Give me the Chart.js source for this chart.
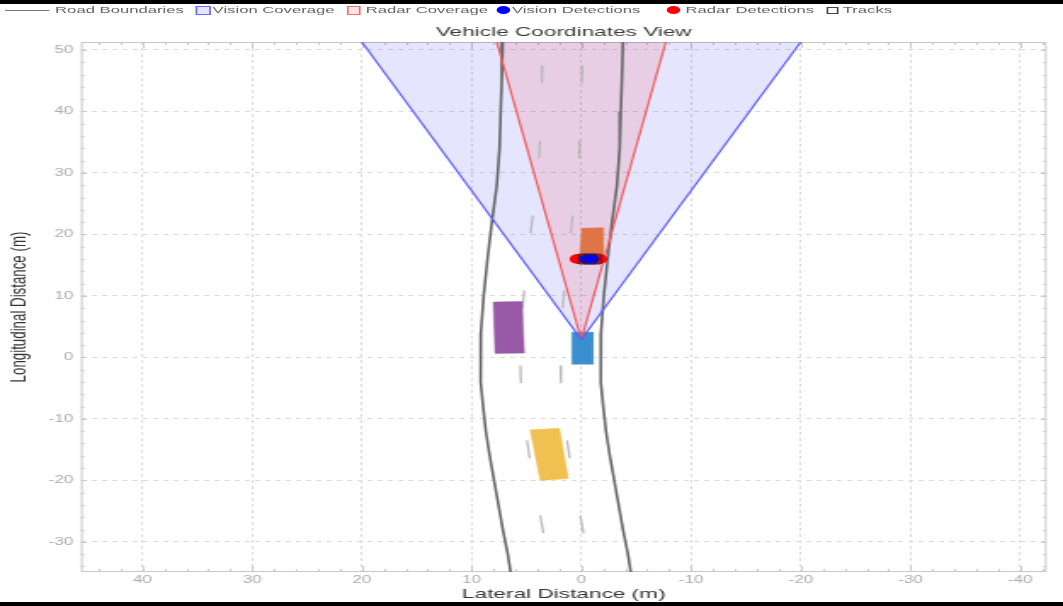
<!DOCTYPE html>
<html>
<head>
<meta charset="utf-8">
<script src="https://cdn.jsdelivr.net/npm/chart.js@4/dist/chart.umd.min.js"></script>
<style>
  html, body { margin: 0; padding: 0; background: #000; width: 1063px; height: 606px; overflow: hidden; }
  /* the source picture was drawn narrow and stretched sideways, so do the same */
  #stage { position: absolute; left: 0; top: 4px; width: 625px; height: 598px; background: #fff;
           transform: scaleX(1.7008); transform-origin: 0 0; font-family: "Liberation Sans", Arial, sans-serif; }
  #chart { position: absolute; left: 0; top: 0; }
  #legend { position: absolute; left: 0; top: 0; height: 12px; width: 625px; z-index: 2; }
  #legend .tx { position: absolute; top: 0; line-height: 12px; font-size: 9.8px; color: #666; white-space: nowrap; }
  #legend .mk { position: absolute; box-sizing: border-box; }
  #legend .line { top: 5.5px; width: 26px; height: 0; border-top: 1.3px solid #7a7a7a; }
  #legend .sq { top: 1.5px; width: 8.5px; height: 9px; border: 1.2px solid; }
  #legend .dot { top: 2px; width: 8px; height: 8px; border-radius: 50%; }
</style>
</head>
<body>
<div id="stage">
  <div id="legend">
    <span class="mk line" style="left:3px"></span><span class="tx" style="left:32.4px">Road Boundaries</span>
    <span class="mk sq" style="left:115px;border-color:#6a6aff;background:#e6e6ff"></span><span class="tx" style="left:125px">Vision Coverage</span>
    <span class="mk sq" style="left:203.5px;border-color:#f07070;background:#fde6e6"></span><span class="tx" style="left:215px">Radar Coverage</span>
    <span class="mk dot" style="left:292px;background:#0000ff"></span><span class="tx" style="left:301px">Vision Detections</span>
    <span class="mk dot" style="left:392px;background:#ff0000"></span><span class="tx" style="left:403px">Radar Detections</span>
    <span class="mk sq" style="left:486px;top:2.5px;width:6.5px;height:7px;border-color:#444;background:#fff"></span><span class="tx" style="left:495.5px">Tracks</span>
  </div>
  <canvas id="chart" width="625" height="598"></canvas>
</div>
<script>
// 標題與軸標籤
const chartTitle = 'Vehicle Coordinates View';
const xTitle = 'Lateral Distance (m)';
const yTitle = 'Longitudinal Distance (m)';

// 軸範圍
const xRange = [-42.4, 45.6]; // 左邊是正值（反向）
const yRange = [-34.9, 51.3];

// 道路邊界：縱向距離 vs 橫向距離
const roadLong = [52, 45, 40, 34, 28, 22, 16, 10, 4, 0, -4, -8, -12, -16, -20, -24, -28, -32, -36];
const roadLeftLat = [7.15, 7.25, 7.35, 7.45, 7.7, 8.15, 8.55, 8.9, 9.15, 9.2, 9.15, 8.95, 8.7, 8.35, 7.95, 7.55, 7.15, 6.7, 6.35];
const roadRightLat = [-3.8, -3.7, -3.6, -3.5, -3.25, -2.8, -2.4, -2.05, -1.8, -1.75, -1.8, -2.0, -2.25, -2.6, -3.0, -3.4, -3.8, -4.25, -4.6];

// 車道虛線（每段兩個端點）
const dashLong = [[47.5, 44.6], [35.3, 32.4], [23.1, 20.2], [10.9, 8.0], [-1.3, -4.2], [-13.5, -16.4], [-25.7, -28.6]];
const laneOneLat = [[3.55, 3.6], [3.77, 3.85], [4.42, 4.62], [5.2, 5.35], [5.55, 5.5], [4.95, 4.7], [3.75, 3.45]];
const laneTwoLat = [[-0.1, -0.05], [0.12, 0.2], [0.77, 0.97], [1.55, 1.7], [1.9, 1.85], [1.3, 1.05], [0.1, -0.2]];

// 感測範圍（三角形）
const visionCovLat = [0, 21.94, -21.94, 0];
const visionCovLong = [2.9, 56, 56, 2.9];
const radarCovLat = [0, 8.45, -8.45, 0];
const radarCovLong = [2.9, 56, 56, 2.9];

// 車輛外框
const egoLat = [0.85, -1.05, -1.05, 0.85, 0.85];
const egoLong = [4.1, 4.1, -1.1, -1.1, 4.1];
const leadCarLat = [-0.05, -1.9, -2.0, 0.15, -0.05];
const leadCarLong = [21.0, 21.1, 16.3, 16.2, 21.0];
const leftCarLat = [8.02, 5.4, 5.2, 7.85, 8.02];
const leftCarLong = [9.0, 9.1, 0.7, 0.65, 9.0];
const rearCarLat = [4.65, 2.0, 1.19, 3.74, 4.65];
const rearCarLong = [-11.8, -11.5, -19.7, -20.0, -11.8];

// 偵測與追蹤
const radarDetLat = [0.3, -0.2, -0.65, -1.1, -1.6];
const radarDetLong = [16.0, 16.0, 16.0, 16.0, 16.0];
const visionDetLat = [-0.5, -0.95];
const visionDetLong = [16.0, 16.0];
const trackLat = [-0.55, -1.0];
const trackLong = [16.0, 16.0];

const pts = (xs, ys) => xs.map((x, i) => ({ x, y: ys[i] }));
const dashes = lat => dashLong.flatMap((d, i) => [{ x: lat[i][0], y: d[0] }, { x: lat[i][1], y: d[1] }, { x: 0, y: null }]);

Chart.defaults.font.family = '"Liberation Sans", Arial, sans-serif';

const shape = (data, bg, border, bw, fill) => ({
  data, showLine: true, pointRadius: 0, borderColor: border, borderWidth: bw,
  backgroundColor: bg, fill: fill ? 'shape' : false, spanGaps: false
});

// 畫圖框與小刻度
const framePlugin = {
  id: 'frame',
  beforeDatasetsDraw(chart) {
    const { ctx, chartArea: a, scales: { x, y } } = chart;
    ctx.save();
    ctx.strokeStyle = '#c8c8c8';
    ctx.lineWidth = 1;
    ctx.strokeRect(a.left + 0.5, a.top + 0.5, a.right - a.left - 1, a.bottom - a.top - 1);
    ctx.beginPath();
    for (let v = -42; v <= 44; v += 2) {
      const px = Math.round(x.getPixelForValue(v)) + 0.5;
      const len = v % 10 === 0 ? 6 : 3;
      ctx.moveTo(px, a.bottom); ctx.lineTo(px, a.bottom - len);
      ctx.moveTo(px, a.top); ctx.lineTo(px, a.top + len);
    }
    for (let v = -34; v <= 50; v += 2) {
      const py = Math.round(y.getPixelForValue(v)) + 0.5;
      const len = v % 10 === 0 ? 3.5 : 2;
      ctx.moveTo(a.left, py); ctx.lineTo(a.left + len, py);
      ctx.moveTo(a.right, py); ctx.lineTo(a.right - len, py);
    }
    ctx.stroke();
    ctx.restore();
  }
};

// 標題置中於繪圖區
const titlePlugin = {
  id: 'plotTitle',
  afterDraw(chart) {
    const { ctx, chartArea: a } = chart;
    ctx.save();
    ctx.font = '13.3px "Liberation Sans", Arial, sans-serif';
    ctx.fillStyle = '#3c3c3c';
    ctx.textAlign = 'center';
    ctx.textBaseline = 'middle';
    ctx.fillText(chartTitle, (a.left + a.right) / 2, 28);
    ctx.restore();
  }
};

new Chart(document.getElementById('chart'), {
  type: 'scatter',
  data: {
    datasets: [
      { data: pts(trackLat, trackLong), pointStyle: 'rect', pointRadius: 7, borderColor: '#222', borderWidth: 0.8, backgroundColor: 'rgba(0,0,0,0)' },
      { data: pts(visionDetLat, visionDetLong), pointRadius: 4.5, borderWidth: 0, backgroundColor: '#0000ff' },
      { data: pts(radarDetLat, radarDetLong), pointRadius: 5, borderWidth: 0, backgroundColor: '#ff0000' },
      shape(pts(visionCovLat, visionCovLong), 'rgba(0,0,0,0)', '#5c5cff', 1.2, false),
      shape(pts(radarCovLat, radarCovLong), 'rgba(0,0,0,0)', '#f05a5a', 1.2, false),
      shape(pts(egoLat, egoLong), '#3a8ed0', '#3a8ed0', 0.5, true),
      shape(pts(leadCarLat, leadCarLong), '#df7446', '#df7446', 0.5, true),
      shape(pts(leftCarLat, leftCarLong), '#985aa6', '#985aa6', 0.5, true),
      shape(pts(rearCarLat, rearCarLong), '#f0c050', '#f0c050', 0.5, true),
      shape(dashes(laneOneLat), 'rgba(0,0,0,0)', '#b8b8b8', 1.3, false),
      shape(dashes(laneTwoLat), 'rgba(0,0,0,0)', '#b8b8b8', 1.3, false),
      shape(pts(roadLeftLat, roadLong), 'rgba(0,0,0,0)', '#666', 1.6, false),
      shape(pts(roadRightLat, roadLong), 'rgba(0,0,0,0)', '#666', 1.6, false),
      shape(pts(radarCovLat, radarCovLong), 'rgba(255,0,0,0.1)', 'rgba(0,0,0,0)', 0, true),
      shape(pts(visionCovLat, visionCovLong), 'rgba(0,0,255,0.1)', 'rgba(0,0,0,0)', 0, true)
    ]
  },
  options: {
    responsive: false,
    animation: false,
    devicePixelRatio: 1,
    layout: { padding: { top: 38, right: 9.7, bottom: 0, left: 0 } },
    plugins: { legend: { display: false }, title: { display: false }, tooltip: { enabled: false } },
    scales: {
      x: {
        type: 'linear', reverse: true, min: xRange[0], max: xRange[1],
        afterFit: s => { s.height = 30; },
        ticks: { stepSize: 10, includeBounds: false, color: '#ababab', font: { size: 10 }, padding: 2, maxRotation: 0 },
        grid: { color: '#dcdcdc', drawTicks: false },
        border: { display: false, dash: [3, 3] },
        title: { display: true, text: xTitle, color: '#333', font: { size: 13.3 }, padding: { top: 0, bottom: 0 } }
      },
      y: {
        type: 'linear', min: yRange[0], max: yRange[1],
        afterFit: s => { s.width = 47.6; },
        ticks: { stepSize: 10, includeBounds: false, color: '#ababab', font: { size: 10 }, padding: 4.6 },
        grid: { color: '#dcdcdc', drawTicks: false },
        border: { display: false, dash: [3, 3] },
        title: { display: true, text: yTitle, color: '#333', font: { size: 13.3 }, padding: { top: 3, bottom: 0 } }
      }
    }
  },
  plugins: [framePlugin, titlePlugin]
});
</script>
</body>
</html>
